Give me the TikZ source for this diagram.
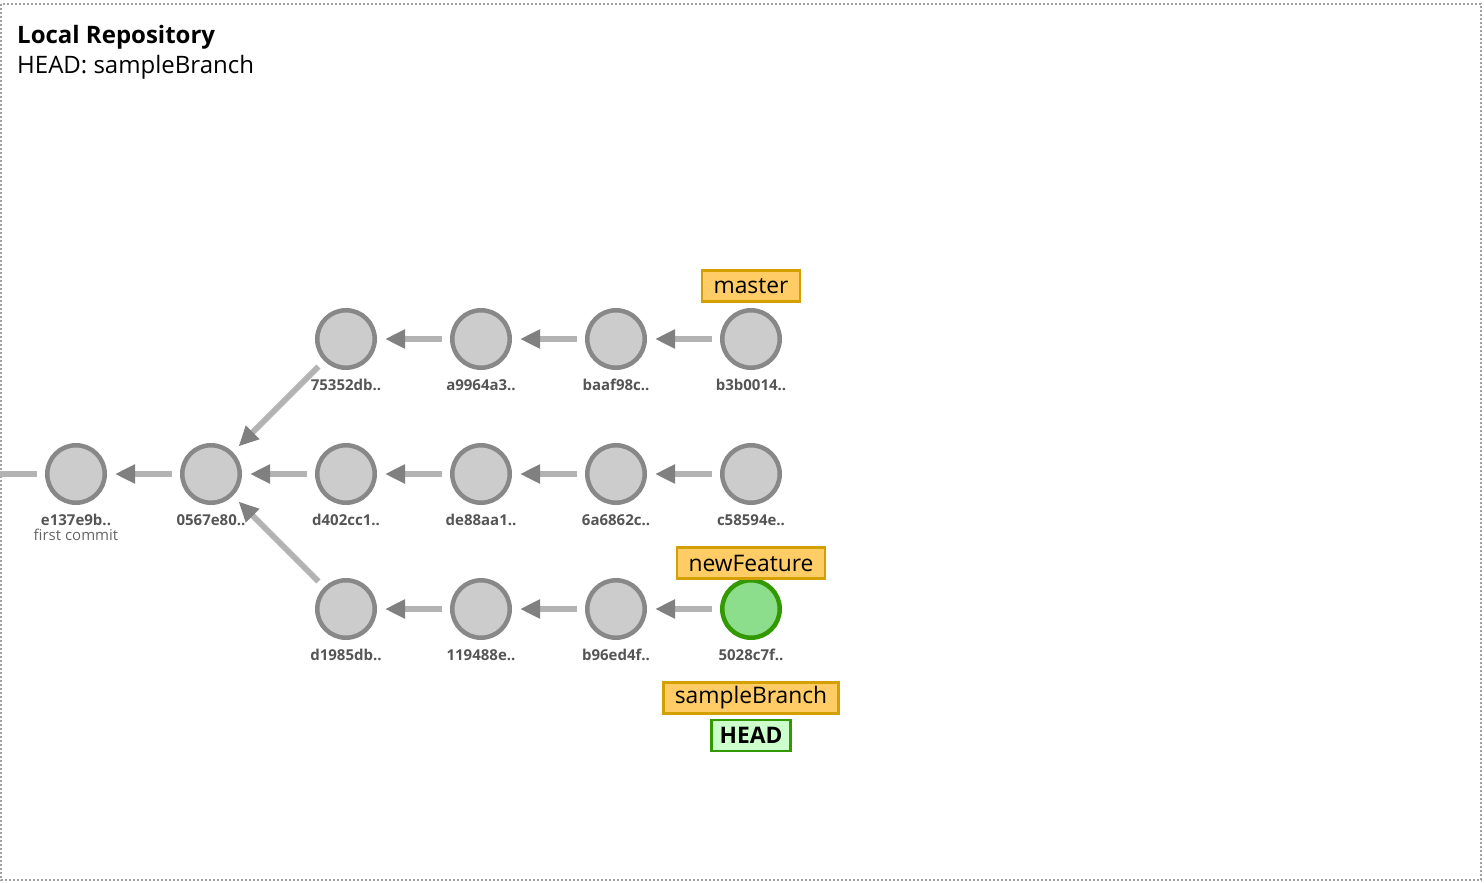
\documentclass[tikz,border=0pt]{standalone}
\usepackage{fontspec}
\setmainfont{Open Sans}
\usetikzlibrary{arrows.meta}
\definecolor{cfill}{HTML}{CCCCCC}
\definecolor{cdraw}{HTML}{888888}
\definecolor{gfill}{HTML}{8CDD8C}
\definecolor{gdraw}{HTML}{339900}
\definecolor{lnc}{HTML}{B3B3B3}
\definecolor{tipc}{HTML}{808080}
\definecolor{bfill}{HTML}{FFCC66}
\definecolor{bdraw}{HTML}{D4A000}
\definecolor{hfill}{HTML}{CCFFCC}
\definecolor{labc}{HTML}{555555}
\definecolor{subc}{HTML}{666666}
\definecolor{framec}{HTML}{A0A0A0}
\tikzset{
  commit/.style={circle,draw=cdraw,fill=cfill,line width=4.5pt,minimum size=57.5pt,inner sep=0pt},
  headcommit/.style={commit,draw=gdraw,fill=gfill},
  parent/.style={draw=lnc,line width=6pt,shorten <=8pt,shorten >=8pt,
    -{Triangle[length=20pt,width=18pt,color=tipc]}},
  tail/.style={draw=lnc,line width=6pt,shorten <=8pt},
  hash/.style={anchor=base,font=\fontsize{15}{18}\selectfont\bfseries,text=labc,inner sep=0pt},
  sub/.style={anchor=base,font=\fontsize{15}{18}\selectfont,text=subc,inner sep=0pt},
  branch/.style={draw=bdraw,fill=bfill,line width=2.5pt,font=\fontsize{22.8}{26}\selectfont,
    minimum height=31pt,inner xsep=11.5pt,inner ysep=0pt},
  headlab/.style={draw=gdraw,fill=hfill,line width=2.5pt,font=\fontsize{22.8}{26}\selectfont\bfseries,
    minimum height=31pt,inner xsep=8pt,inner ysep=0pt}
}
\begin{document}
\begin{tikzpicture}[x=1pt,y=-1pt]
\useasboundingbox (0,0) rectangle (1484,883);
\draw[framec,line width=1.5pt,dash pattern=on 2pt off 2pt] (1,4) rectangle (1481,880);
\node[anchor=base west,inner sep=0pt,font=\fontsize{24}{28}\selectfont\bfseries] (title) at (17,44) {Local Repository};
\node[anchor=base west,inner sep=0pt,font=\fontsize{24}{28}\selectfont] (headinfo) at (17,74) {HEAD: sampleBranch};
% commits
\node[commit] (e137) at (76,474) {};
\node[commit] (0567) at (211,474) {};
\node[commit] (7535) at (346,339) {};
\node[commit] (a996) at (481,339) {};
\node[commit] (baaf) at (616,339) {};
\node[commit] (b3b0) at (751,339) {};
\node[commit] (d402) at (346,474) {};
\node[commit] (de88) at (481,474) {};
\node[commit] (6a68) at (616,474) {};
\node[commit] (c585) at (751,474) {};
\node[commit] (d198) at (346,609) {};
\node[commit] (1194) at (481,609) {};
\node[commit] (b96e) at (616,609) {};
\node[headcommit] (5028) at (751,609) {};
\coordinate (offleft) at (0,474);
% labels
\node[hash] (le137) at (76,525) {e137e9b..};
\node[sub] (lfirst) at (76,540) {first commit};
\node[hash] (l0567) at (211,525) {0567e80..};
\node[hash] (l7535) at (346,390) {75352db..};
\node[hash] (la996) at (481,390) {a9964a3..};
\node[hash] (lbaaf) at (616,390) {baaf98c..};
\node[hash] (lb3b0) at (751,390) {b3b0014..};
\node[hash] (ld402) at (346,525) {d402cc1..};
\node[hash] (lde88) at (481,525) {de88aa1..};
\node[hash] (l6a68) at (616,525) {6a6862c..};
\node[hash] (lc585) at (751,525) {c58594e..};
\node[hash] (ld198) at (346,660) {d1985db..};
\node[hash] (l1194) at (481,660) {119488e..};
\node[hash] (lb96e) at (616,660) {b96ed4f..};
\node[hash] (l5028) at (751,660) {5028c7f..};
% edges
\draw[tail] (e137) -- (offleft);
\draw[parent] (0567) -- (e137);
\draw[parent] (7535) -- (0567);
\draw[parent] (d402) -- (0567);
\draw[parent] (d198) -- (0567);
\draw[parent] (a996) -- (7535);
\draw[parent] (baaf) -- (a996);
\draw[parent] (b3b0) -- (baaf);
\draw[parent] (de88) -- (d402);
\draw[parent] (6a68) -- (de88);
\draw[parent] (c585) -- (6a68);
\draw[parent] (1194) -- (d198);
\draw[parent] (b96e) -- (1194);
\draw[parent] (5028) -- (b96e);
% branch labels
\node[branch] (master) at (751,286) {master};
\node[branch] (newFeature) at (751,563) {newFeature};
\node[branch] (sampleBranch) at (751,698) {sampleBranch};
\node[headlab] (HEAD) at (751,735.5) {HEAD};
\end{tikzpicture}
\end{document}
